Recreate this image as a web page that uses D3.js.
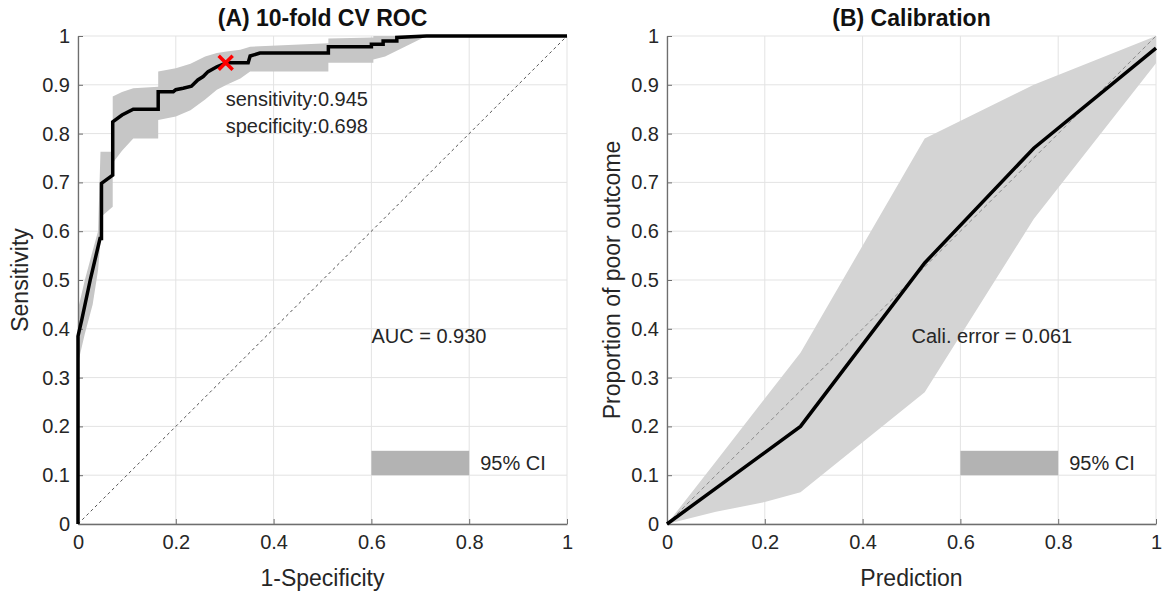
<!DOCTYPE html>
<html><head><meta charset="utf-8">
<script src="https://cdn.jsdelivr.net/npm/d3@7"></script>
<style>
body{margin:0;background:#fff;}
svg{display:block;font-family:"Liberation Sans",Arial,Helvetica,sans-serif;}
</style></head><body>
<svg id="c" width="1173" height="597"></svg>
<script>
// ---- Data ----
const ticks = [0,0.1,0.2,0.3,0.4,0.5,0.6,0.7,0.8,0.9,1];
const xTicks = [0,0.2,0.4,0.6,0.8,1];
const tickLabels = ["0","0.1","0.2","0.3","0.4","0.5","0.6","0.7","0.8","0.9","1"];
const xTickLabels = ["0","0.2","0.4","0.6","0.8","1"];

// ROC mean curve (1-specificity, sensitivity)
const rocFpr = [0,0,0.008,0.025,0.045,0.048,0.048,0.071,0.071,0.09,0.113,0.164,0.164,0.195,0.2,0.215,0.232,0.245,0.256,0.266,0.284,0.304,0.348,0.352,0.372,0.512,0.512,0.6,0.6,0.624,0.624,0.652,0.652,0.713,1];
const rocTpr = [0,0.385,0.42,0.5,0.585,0.585,0.698,0.715,0.824,0.838,0.85,0.85,0.886,0.886,0.89,0.893,0.897,0.91,0.917,0.927,0.937,0.945,0.945,0.959,0.965,0.965,0.978,0.978,0.983,0.983,0.99,0.99,0.997,1,1];
// ROC 95% CI band
const rocBandX  = [0,0.014,0.03,0.041,0.046,0.048,0.071,0.071,0.09,0.113,0.164,0.164,0.2,0.23,0.26,0.284,0.304,0.332,0.352,0.512,0.512,0.604,0.604,0.628,0.713,1];
const rocBandLo = [0.33,0.39,0.45,0.52,0.58,0.63,0.65,0.74,0.765,0.79,0.79,0.828,0.835,0.848,0.87,0.89,0.9,0.913,0.927,0.927,0.945,0.945,0.952,0.958,1,1];
const rocBandHi = [0.44,0.5,0.56,0.6,0.763,0.763,0.763,0.876,0.885,0.893,0.896,0.927,0.934,0.943,0.958,0.965,0.968,0.972,0.978,0.985,0.995,0.997,1,1,1,1];
const cutPoint = {fpr:0.302, tpr:0.945};
const aucText = "AUC = 0.930";

// Calibration
const calPred = [0,0.273,0.527,0.75,1];
const calObs  = [0,0.2,0.535,0.77,0.975];
const calBandX  = [0,0.1,0.2,0.273,0.527,0.75,1];
const calBandLo = [0,0.025,0.045,0.065,0.27,0.625,0.944];
const calBandHi = [0,0.128,0.257,0.351,0.79,0.9,1];
const calText = "Cali. error = 0.061";

// ---- Layout ----
const svg = d3.select("#c");
const H = {top:36, bottom:524};
const FS = 20;
const panels = [
  {x0:78, x1:567, title:"(A) 10-fold CV ROC", xlab:"1-Specificity", ylab:"Sensitivity", ylabX:20},
  {x0:667, x1:1156, title:"(B) Calibration", xlab:"Prediction", ylab:"Proportion of poor outcome", ylabX:612}
];
const txtCol = "#262626";

function setupPanel(p){
  const x = d3.scaleLinear().domain([0,1]).range([p.x0,p.x1]);
  const y = d3.scaleLinear().domain([0,1]).range([H.bottom,H.top]);
  const g = svg.append("g");
  g.append("g").selectAll("line").data(xTicks).join("line")
    .attr("x1",d=>x(d)).attr("x2",d=>x(d)).attr("y1",H.top).attr("y2",H.bottom)
    .attr("stroke","#e3e3e3").attr("stroke-width",1);
  g.append("g").selectAll("line").data(ticks).join("line")
    .attr("y1",d=>y(d)).attr("y2",d=>y(d)).attr("x1",p.x0).attr("x2",p.x1)
    .attr("stroke","#e3e3e3").attr("stroke-width",1);
  return {x,y,g};
}

function finishPanel(p, s){
  const {x,y} = s;
  const xa = svg.append("g").attr("transform",`translate(0,${H.bottom})`)
    .call(d3.axisBottom(x).tickValues(xTicks).tickFormat((d,i)=>xTickLabels[i]).tickSizeInner(-5).tickSizeOuter(0).tickPadding(11));
  const ya = svg.append("g").attr("transform",`translate(${p.x0},0)`)
    .call(d3.axisLeft(y).tickValues(ticks).tickFormat((d,i)=>tickLabels[i]).tickSizeInner(-5).tickSizeOuter(0).tickPadding(8));
  [xa,ya].forEach(a=>{
    a.attr("font-size",FS).attr("font-family","Liberation Sans, Arial, sans-serif");
    a.select(".domain").attr("stroke","#6e6e6e").attr("stroke-width",1.3);
    a.selectAll(".tick line").attr("stroke","#6e6e6e");
    a.selectAll("text").attr("fill",txtCol);
  });
  svg.append("text").attr("x",(p.x0+p.x1)/2).attr("y",26).attr("text-anchor","middle")
    .attr("font-weight","bold").attr("font-size",23).attr("fill","#111").text(p.title);
  svg.append("text").attr("x",(p.x0+p.x1)/2).attr("y",586).attr("text-anchor","middle")
    .attr("font-size",23).attr("fill",txtCol).text(p.xlab);
  svg.append("text").attr("transform",`translate(${p.ylabX+8},${(H.top+H.bottom)/2}) rotate(-90)`)
    .attr("text-anchor","middle").attr("font-size",23).attr("fill",txtCol).text(p.ylab);
  svg.append("rect").attr("x",x(0.6)).attr("y",y(0.15)).attr("width",x(0.8)-x(0.6)).attr("height",y(0.1)-y(0.15))
    .attr("fill","#b3b3b3");
  svg.append("text").attr("x",x(0.8)+11).attr("y",y(0.125)+7).attr("font-size",FS).attr("fill",txtCol).text("95% CI");
}

// Panel A
{
  const p = panels[0];
  const s = setupPanel(p);
  const {x,y,g} = s;
  const band = rocBandX.map((d,i)=>({x:d,lo:rocBandLo[i],hi:rocBandHi[i]}));
  g.append("path").datum(band)
    .attr("d",d3.area().x(d=>x(d.x)).y0(d=>y(d.lo)).y1(d=>y(d.hi)))
    .attr("fill","#c6c6c6");
  g.append("line").attr("x1",x(0)).attr("y1",y(0)).attr("x2",x(1)).attr("y2",y(1))
    .attr("stroke","#555").attr("stroke-width",1).attr("stroke-dasharray","3,3");
  const pts = rocFpr.map((d,i)=>[d,rocTpr[i]]);
  finishPanel(p,s);
  svg.append("path").datum(pts).attr("d",d3.line().x(d=>x(d[0])).y(d=>y(d[1])))
    .attr("fill","none").attr("stroke","#000").attr("stroke-width",3.5).attr("stroke-linejoin","miter");
  const cx = x(cutPoint.fpr), cy = y(cutPoint.tpr), r = 7;
  svg.append("path").attr("d",`M${cx-r},${cy-r}L${cx+r},${cy+r}M${cx-r},${cy+r}L${cx+r},${cy-r}`)
    .attr("stroke","#ff0000").attr("stroke-width",3.5);
  svg.append("text").attr("x",x(0.302)).attr("y",y(0.87)+7).attr("font-size",FS).attr("fill",txtCol)
    .text("sensitivity:"+cutPoint.tpr.toFixed(3));
  svg.append("text").attr("x",x(0.302)).attr("y",y(0.815)+7).attr("font-size",FS).attr("fill",txtCol)
    .text("specificity:0.698");
  svg.append("text").attr("x",x(0.6)).attr("y",y(0.385)+7).attr("font-size",FS).attr("fill",txtCol).text(aucText);
}

// Panel B
{
  const p = panels[1];
  const s = setupPanel(p);
  const {x,y,g} = s;
  const band = calBandX.map((d,i)=>({x:d,lo:calBandLo[i],hi:calBandHi[i]}));
  g.append("path").datum(band)
    .attr("d",d3.area().x(d=>x(d.x)).y0(d=>y(d.lo)).y1(d=>y(d.hi)))
    .attr("fill","#d4d4d4");
  g.append("line").attr("x1",x(0)).attr("y1",y(0)).attr("x2",x(1)).attr("y2",y(1))
    .attr("stroke","#8a8a8a").attr("stroke-width",1).attr("stroke-dasharray","4,3");
  finishPanel(p,s);
  const pts = calPred.map((d,i)=>[d,calObs[i]]);
  svg.append("path").datum(pts).attr("d",d3.line().x(d=>x(d[0])).y(d=>y(d[1])))
    .attr("fill","none").attr("stroke","#000").attr("stroke-width",3.5);
  svg.append("text").attr("x",x(0.5)).attr("y",y(0.385)+7).attr("font-size",FS).attr("fill",txtCol).text(calText);
}
</script>
</body></html>
